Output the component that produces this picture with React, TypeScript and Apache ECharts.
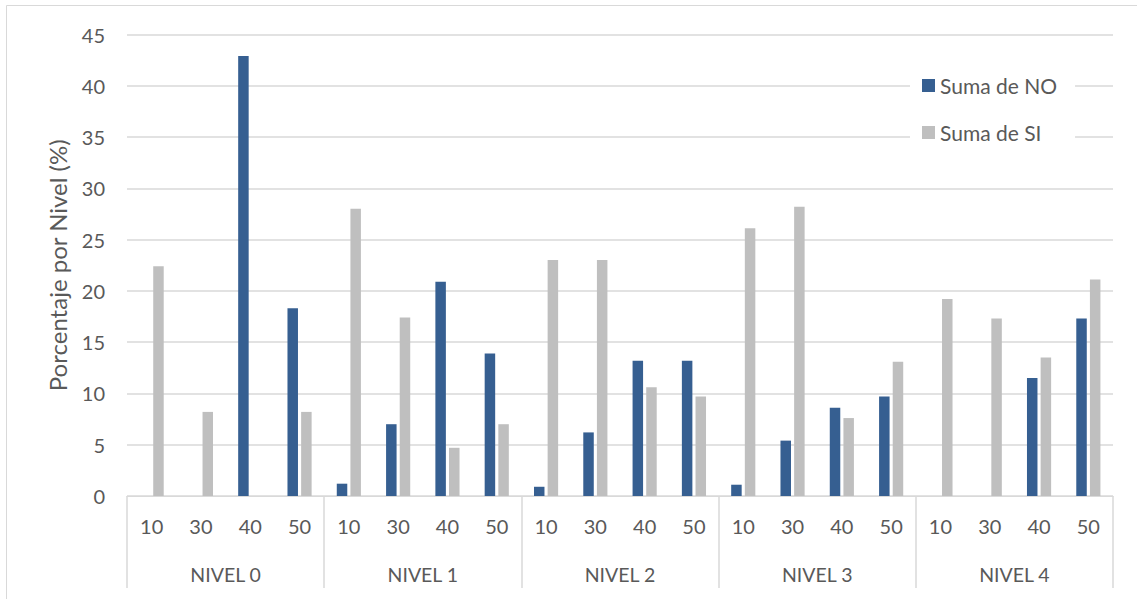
import React, { useEffect, useRef } from "react";
import * as echarts from "echarts";

// Sub-categories inside each level and the level names
const subCategories = ["10", "30", "40", "50"];
const levels = ["NIVEL 0", "NIVEL 1", "NIVEL 2", "NIVEL 3", "NIVEL 4"];

// Percentages per level (order: 10, 30, 40, 50 within each level)
const sumaNO = [
  0, 0, 42.9, 18.3,
  1.2, 7.0, 20.9, 13.9,
  0.9, 6.2, 13.2, 13.2,
  1.1, 5.4, 8.6, 9.7,
  0, 0, 11.5, 17.3,
];
const sumaSI = [
  22.4, 8.2, 0, 8.2,
  28.0, 17.4, 4.7, 7.0,
  23.0, 23.0, 10.6, 9.7,
  26.1, 28.2, 7.6, 13.1,
  19.2, 17.3, 13.5, 21.1,
];

const yTicks = { min: 0, max: 45, interval: 5 };

const FONT = "Lato, 'Open Sans', sans-serif";
const TEXT = "#595959";
const LINE = "#d9d9d9";

export default function App() {
  const ref = useRef<HTMLDivElement>(null);

  useEffect(() => {
    if (!ref.current) return;
    const chart = echarts.init(ref.current, undefined, { renderer: "svg" });

    const categories: string[] = [];
    levels.forEach(() => subCategories.forEach((s) => categories.push(s)));

    chart.setOption({
      animation: false,
      textStyle: { fontFamily: FONT },
      graphic: [
        {
          type: "rect",
          shape: { x: 6.5, y: 5.5, width: 1140, height: 600 },
          style: { fill: "none", stroke: LINE, lineWidth: 1 },
          silent: true,
          z: -10,
        },
      ],
      grid: { left: 127, right: 24, top: 34.5, bottom: 103 },
      legend: {
        orient: "vertical",
        left: 910,
        top: 67,
        padding: [8, 18, 8, 12],
        backgroundColor: "#ffffff",
        itemWidth: 13,
        itemHeight: 13,
        itemGap: 26,
        icon: "rect",
        textStyle: { color: TEXT, fontSize: 21, fontFamily: FONT },
        data: ["Suma de NO", "Suma de SI"],
        z: 5,
      },
      xAxis: [
        {
          type: "category",
          data: categories,
          gridIndex: 0,
          axisLine: { show: true, lineStyle: { color: LINE, width: 1 } },
          axisTick: { show: false },
          axisLabel: {
            color: TEXT,
            fontSize: 20,
            fontFamily: FONT,
            margin: 20,
            interval: 0,
          },
        },
        {
          type: "category",
          data: levels,
          gridIndex: 0,
          position: "bottom",
          axisLine: { show: false },
          axisTick: {
            show: true,
            length: 92,
            lineStyle: { color: LINE, width: 1.5 },
          },
          axisLabel: {
            color: TEXT,
            fontSize: 19.5,
            fontFamily: FONT,
            margin: 68,
            interval: 0,
          },
        },
      ],
      yAxis: {
        type: "value",
        min: yTicks.min,
        max: yTicks.max,
        interval: yTicks.interval,
        name: "Porcentaje por Nivel (%)",
        nameLocation: "middle",
        nameRotate: 90,
        nameGap: 58,
        nameTextStyle: { color: TEXT, fontSize: 24, fontFamily: FONT },
        axisLine: { show: false },
        axisTick: { show: false },
        axisLabel: { color: TEXT, fontSize: 20, fontFamily: FONT, margin: 22 },
        splitLine: { lineStyle: { color: LINE, width: 1.5 } },
      },
      series: [
        {
          name: "Suma de NO",
          type: "bar",
          data: sumaNO,
          barWidth: 10.5,
          barGap: "30%",
          itemStyle: { color: "#365F91" },
        },
        {
          name: "Suma de SI",
          type: "bar",
          data: sumaSI,
          barWidth: 10.5,
          itemStyle: { color: "#BFBFBF" },
        },
      ],
    });

    return () => chart.dispose();
  }, []);

  return (
    <div
      ref={ref}
      style={{ position: "fixed", left: 0, top: 0, width: 1137, height: 599, background: "#fff" }}
    />
  );
}
